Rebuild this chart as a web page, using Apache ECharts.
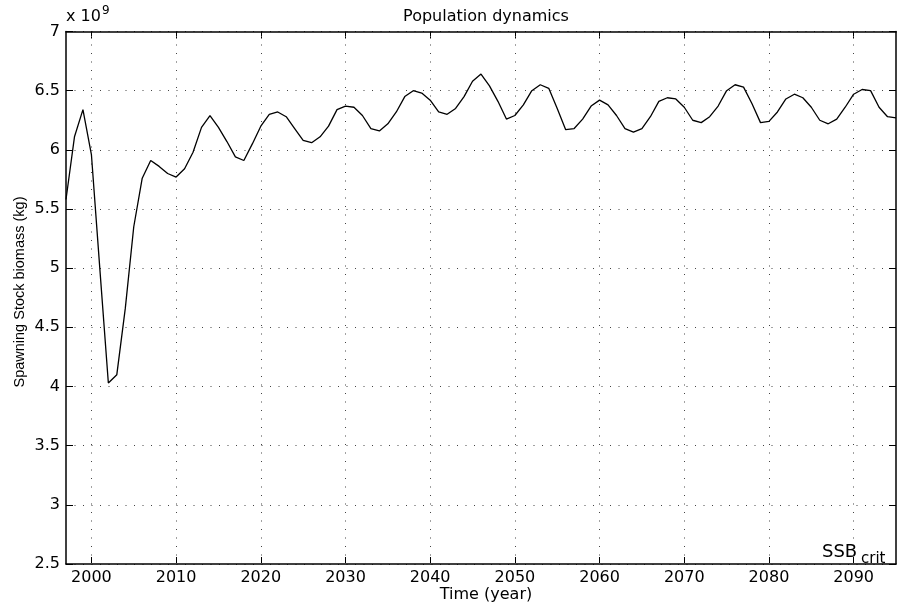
<!DOCTYPE html>
<html>
<head>
<meta charset="utf-8">
<script src="https://cdn.jsdelivr.net/npm/echarts@6/dist/echarts.min.js"></script>
<style>
html,body{margin:0;padding:0;background:#fff;}
#chart{width:897px;height:604px;}
</style>
</head>
<body>
<div id="chart"></div>
<script>
// Years (x values)
var years = [];
for (var y = 1997; y <= 2095; y++) years.push(y);

// Spawning stock biomass, in units of 1e9 kg
var ssb = [
  5.58, 6.11, 6.34, 5.96, 4.99, 4.03, 4.10, 4.66, 5.35, 5.76,
  5.91, 5.86, 5.80, 5.77, 5.84, 5.98, 6.19, 6.29, 6.19, 6.07,
  5.94, 5.91, 6.05, 6.20, 6.30, 6.32, 6.28, 6.18, 6.08, 6.06,
  6.11, 6.20, 6.34, 6.37, 6.36, 6.29, 6.18, 6.16, 6.22, 6.32,
  6.45, 6.50, 6.48, 6.42, 6.32, 6.30, 6.35, 6.45, 6.58, 6.64,
  6.54, 6.41, 6.26, 6.29, 6.38, 6.50, 6.55, 6.52, 6.35, 6.17,
  6.18, 6.26, 6.37, 6.42, 6.38, 6.29, 6.18, 6.15, 6.18, 6.28,
  6.41, 6.44, 6.43, 6.36, 6.25, 6.23, 6.28, 6.37, 6.50, 6.55,
  6.53, 6.39, 6.23, 6.24, 6.32, 6.43, 6.47, 6.44, 6.36, 6.25,
  6.22, 6.26, 6.36, 6.47, 6.51, 6.50, 6.36, 6.28, 6.27
];

// Tick values
var xTicks = [2000, 2010, 2020, 2030, 2040, 2050, 2060, 2070, 2080, 2090];
var xMin = 1997, xMax = 2095;
var yMin = 2.5, yMax = 7, yStep = 0.5;

var FONT = 'DejaVu Sans';
var gridColor = '#444';
var dash = [1, 7.5];

var seriesData = years.map(function (yr, i) { return [yr, ssb[i]]; });

var chart = echarts.init(document.getElementById('chart'), null, {renderer: 'canvas'});

var tickStyle = {show: true, inside: true, length: 7, lineStyle: {color: '#000', width: 1}};
var axisLine = {show: true, onZero: false, lineStyle: {color: '#000', width: 1.5}};

chart.setOption({
  animation: false,
  backgroundColor: '#fff',
  title: {
    text: 'Population dynamics',
    left: 481, top: 4, textAlign: 'center',
    textStyle: {fontFamily: FONT, fontSize: 16, fontWeight: 'normal', color: '#000'}
  },
  grid: {left: 66, right: 1, top: 31.5, bottom: 40, containLabel: false, outerBoundsMode: 'none'},
  xAxis: [{
    type: 'value', min: xMin, max: xMax, position: 'bottom',
    axisLine: axisLine,
    axisTick: Object.assign({customValues: xTicks}, tickStyle),
    axisLabel: {customValues: xTicks, fontFamily: FONT, fontSize: 16, color: '#000', margin: 6,
      formatter: function (v) { return String(v); }},
    splitLine: {show: false}
  }, {
    type: 'value', min: xMin, max: xMax, position: 'top',
    axisLine: axisLine,
    axisTick: Object.assign({customValues: xTicks}, tickStyle),
    axisLabel: {show: false},
    splitLine: {show: false}
  }],
  yAxis: [{
    type: 'value', min: yMin, max: yMax, interval: yStep, position: 'left',
    axisLine: axisLine,
    axisTick: tickStyle,
    axisLabel: {fontFamily: FONT, fontSize: 16, color: '#000', margin: 6},
    splitLine: {show: true, lineStyle: {color: gridColor, width: 1, type: dash}}
  }, {
    type: 'value', min: yMin, max: yMax, interval: yStep, position: 'right',
    axisLine: axisLine,
    axisTick: tickStyle,
    axisLabel: {show: false},
    splitLine: {show: false}
  }],
  series: [{
    type: 'line',
    xAxisIndex: 0, yAxisIndex: 0,
    data: seriesData,
    showSymbol: false,
    symbol: 'none',
    lineStyle: {color: '#000', width: 1.3},
    z: 5,
    markLine: {
      silent: true,
      symbol: ['none', 'none'],
      label: {show: false},
      lineStyle: {color: gridColor, width: 1, type: dash},
      data: xTicks.map(function (t) { return {xAxis: t}; }),
      z: 1
    }
  }],
  graphic: [
    {type: 'text', x: 486, y: 595, style: {text: 'Time (year)', font: '16px "DejaVu Sans"', fill: '#000', align: 'center', verticalAlign: 'middle'}},
    {type: 'text', x: 20, y: 292, rotation: Math.PI / 2, style: {text: 'Spawning Stock biomass (kg)', font: '14.5px "Liberation Sans"', fill: '#000', align: 'center', verticalAlign: 'middle'}},
    {type: 'text', left: 66, top: 9, style: {text: 'x 10', font: '16px "DejaVu Sans"', fill: '#000'}},
    {type: 'text', left: 102, top: 5, style: {text: '9', font: '12px "DejaVu Sans"', fill: '#000'}},
    {type: 'text', left: 822, top: 543, style: {text: 'SSB', font: '18px "DejaVu Sans"', fill: '#000'}},
    {type: 'text', left: 861, top: 552, style: {text: 'crit', font: '15px "DejaVu Sans"', fill: '#000'}}
  ]
});
</script>
</body>
</html>
